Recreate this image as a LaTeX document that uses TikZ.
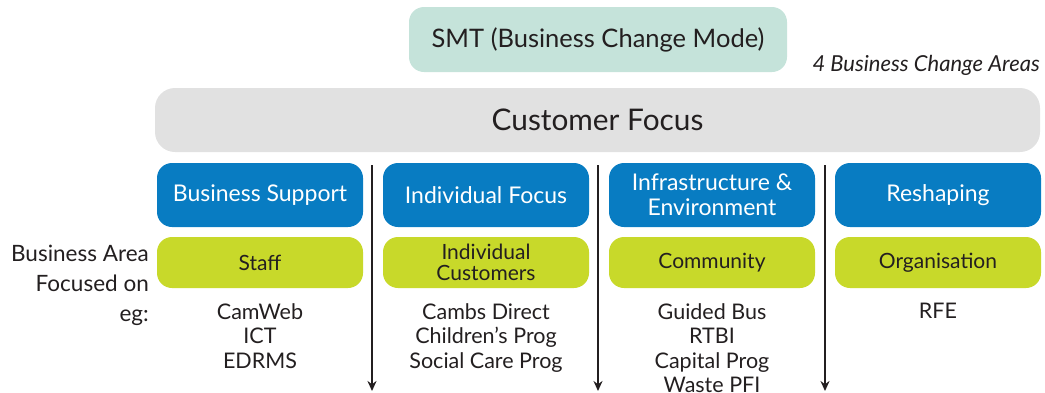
\documentclass[tikz,border=0pt]{standalone}
\usepackage{fontspec}
\setmainfont{Lato}
\usepackage{tikz}
\usetikzlibrary{arrows.meta}

\definecolor{smtgreen}{RGB}{197,227,218}
\definecolor{focusgrey}{RGB}{225,225,225}
\definecolor{areablue}{RGB}{8,124,194}
\definecolor{limegreen}{RGB}{200,217,42}
\definecolor{inkgrey}{RGB}{35,31,32}

\begin{document}
\begin{tikzpicture}[x=1pt,y=-1pt,
        box/.style={rounded corners=15pt,inner sep=0pt,align=center,text=inkgrey},
        areabox/.style={box,fill=areablue,text=white,minimum width=206pt,minimum height=64pt,
                font=\fontsize{23}{25}\selectfont},
        focusbox/.style={box,fill=limegreen,minimum width=206pt,minimum height=51pt,
                font=\fontsize{21}{21}\selectfont},
        examples/.style={anchor=north,align=center,inner sep=0pt,text=inkgrey,
                font=\fontsize{21.5}{24.5}\selectfont},
        divider/.style={line width=2.3pt,draw=inkgrey,-{Stealth[length=10pt,width=9pt]}}]

    \useasboundingbox (0,0) rectangle (1045,392);

    \node[box,fill=smtgreen,minimum width=378pt,minimum height=65pt,
        font=\fontsize{25.5}{28}\selectfont] (smt) at (598,39.5) {SMT (Business Change Mode)};
    \node[anchor=base east,inner sep=0pt,text=inkgrey,font=\fontsize{22}{24}\itshape] (areas)
        at (1040,71) {4 Business Change Areas};
    \node[box,fill=focusgrey,rounded corners=20pt,minimum width=885pt,minimum height=64pt,
        font=\fontsize{29.8}{32}\selectfont] (customer) at (597.5,120) {Customer Focus};

    % the four areas
    \node[areabox] (support) at (260,195) {Business Support};
    \node[areabox] (individual) at (486,195) {Individual Focus};
    \node[areabox] (infra) at (712,195) {Infrastructure \&\\Environment};
    \node[areabox] (reshaping) at (938,195) {Reshaping};

    \node[focusbox] (staff) at (260,262.5) {Staff};
    \node[focusbox] (customers) at (486,262.5) {Individual\\Customers};
    \node[focusbox] (community) at (712,262.5) {Community};
    \node[focusbox] (organisation) at (938,262.5) {Organisation};

    \node[anchor=north east,align=right,inner sep=0pt,text=inkgrey,
        font=\fontsize{22.5}{30}\selectfont] (focused) at (149,245) {Business Area\\Focused on\\eg:};

    \node[examples] (eg1) at (260,303) {CamWeb\\ICT\\EDRMS};
    \node[examples] (eg2) at (486,303) {Cambs Direct\\Children’s Prog\\Social Care Prog};
    \node[examples] (eg3) at (712,303) {Guided Bus\\RTBI\\Capital Prog\\Waste PFI};
    \node[examples] (eg4) at (938,303) {RFE};

    % dividers
    \foreach \x/\n in {372/a,598/b,825/c} {
        \coordinate (top\n) at (\x,165);
        \coordinate (end\n) at (\x,391);
        \draw[divider] (top\n) -- (end\n);
    }
\end{tikzpicture}
\end{document}
